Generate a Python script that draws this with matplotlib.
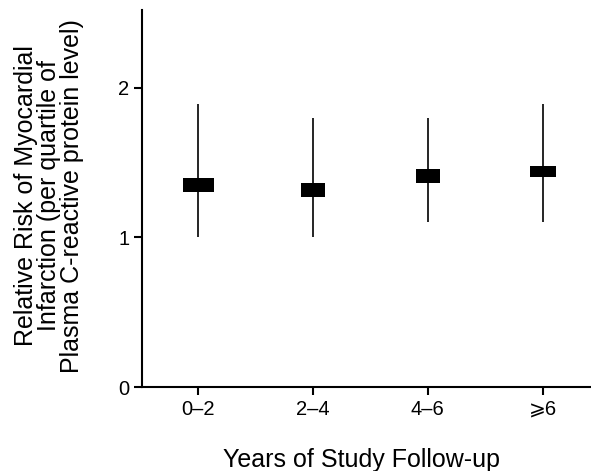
import matplotlib
matplotlib.use("Agg")
import matplotlib.pyplot as plt
from matplotlib.patches import Rectangle

plt.rcParams['font.family'] = ['Liberation Sans', 'DejaVu Sans']

# data
periods = ["0\u20132", "2\u20134", "4\u20136", "\u2a7e6"]
rr = [1.35, 1.32, 1.41, 1.44]
ci_low = [1.0, 1.0, 1.1, 1.1]
ci_high = [1.89, 1.80, 1.80, 1.89]

# box sizes (style only)
box_w = [0.27, 0.21, 0.21, 0.23]
box_h = [0.09, 0.094, 0.092, 0.072]

fig = plt.figure(figsize=(5.91, 4.71), dpi=100)
ax = fig.add_axes([0.2398, 0.178, 0.7602, 0.801])

xs = list(range(1, len(periods) + 1))
ax.vlines(xs, ci_low, ci_high, color="black", linewidth=1.2)
for x, y, w, h in zip(xs, rr, box_w, box_h):
    ax.add_patch(Rectangle((x - w / 2, y - h / 2), w, h, facecolor="black",
                           edgecolor="none", zorder=3))

ax.set_xlim(0.51, 4.42)
ax.set_ylim(0, 2.52)
ax.set_xticks(xs)
ax.set_xticklabels(periods)
ax.set_yticks([0, 1, 2])

for s in ["top", "right"]:
    ax.spines[s].set_visible(False)
for s in ["left", "bottom"]:
    ax.spines[s].set_linewidth(1.5)
ax.tick_params(direction="out", length=6, width=1.5, labelsize=14.5, pad=3)

ax.set_ylabel("Relative Risk of Myocardial\nInfarction (per quartile of\nPlasma C-reactive protein level)",
              fontsize=18, linespacing=0.95, va="center")
ax.yaxis.set_label_coords(-0.206, 0.507)
ax.set_xlabel("Years of Study Follow-up", fontsize=18, va="baseline")
ax.xaxis.set_label_coords(0.49, -0.212)

fig.savefig("out.png", dpi=100)
